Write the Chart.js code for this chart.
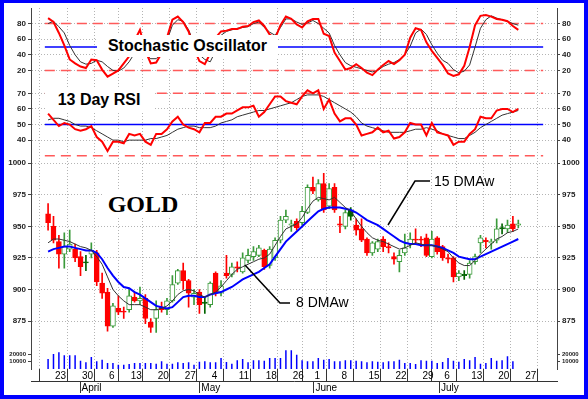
<!DOCTYPE html>
<html>
<head>
<meta charset="utf-8">
<title>Gold</title>
<script src="https://cdn.jsdelivr.net/npm/chart.js@4.4.1/dist/chart.umd.min.js"></script>
<style>
  html, body { margin: 0; padding: 0; background: #fff; }
  #wrap { position: relative; width: 588px; height: 399px; overflow: hidden; background: #fff; }
  #chart { position: absolute; left: 0; top: 0; }
  #frame { position: absolute; left: 0; top: 0; width: 588px; height: 399px; box-sizing: border-box;
           border: solid #0000ff; border-width: 3px 4px 4px 4px; pointer-events: none; }
  .tag { position: absolute; white-space: nowrap; color: #000; font-family: 'Liberation Sans', Arial, sans-serif; }
  .box { background: #fff; text-align: center; font-weight: bold; }
  svg { position: absolute; left: 0; top: 0; }
</style>
</head>
<body>
<div id="wrap">
  <canvas id="chart" width="588" height="399"></canvas>
  <svg width="588" height="399">
    <polyline points="245,265 280,303 290,303" fill="none" stroke="#000" stroke-width="1.5"/>
    <polyline points="388,225 415,181 430,181" fill="none" stroke="#000" stroke-width="1.5"/>
  </svg>
  <div class="tag box" style="left:97px;top:35px;width:181px;height:22px;line-height:22px;font-size:16px;">Stochastic Oscillator</div>
  <div class="tag box" style="left:45px;top:87px;width:108px;height:25px;line-height:25px;font-size:16px;">13 Day RSI</div>
  <div class="tag box" style="left:104px;top:190px;width:78px;height:28px;line-height:28px;font-size:24px;font-family:'Liberation Serif','Times New Roman',serif;">GOLD</div>
  <div class="tag" style="left:296px;top:294px;font-size:14px;line-height:17px;">8 DMAw</div>
  <div class="tag" style="left:434px;top:173px;font-size:14px;line-height:17px;">15 DMAw</div>
  <div id="frame"></div>
</div>
<script>
// trading days 20 Mar .. 24 Jul 2009, index 0 = 20 Mar
const weekIdx = [1, 6, 11, 15, 20, 25, 30, 35, 40, 45, 49, 54, 59, 64, 69, 73, 78, 83, 88];
const weekLabels = ['23', '30', '6', '13', '20', '27', '4', '11', '18', '26', '1', '8', '15', '22', '29', '6', '13', '20', '27'];
const monthIdx = [8, 29, 49, 71];
const monthLabels = ['April', 'May', 'June', 'July'];

const opens = [960,950,938,928,932,932,926,921,928,929, 905,898,871,885,883,884,894,891,893,874,
  877,886,884,891,905,915,907,894,898,889, 888,913,897,913,912,918,914,923,926,927,
  931,919,925,939,955,951,954,953,961,981, 971,984,966,981,952,950,958,951,948,940,
  929,932,940,934,926,922,929,936,940,940, 941,926,941,934,925,925,910,911,912,922,
  937,939,937,939,948,948,952,951];
const highs = [968,958,943,945,947,936,930,927,937,931, 913,901,889,895,886,900,898,902,896,877,
  891,890,893,911,916,921,908,900,900,894, 906,914,907,927,921,922,929,932,934,935,
  932,934,941,958,963,955,956,966,983,989, 987,992,984,984,958,963,965,956,956,941,
  938,940,942,937,929,931,944,945,948,942, 944,946,942,935,928,926,915,915,923,928,
  943,941,940,956,952,955,958,955];
const lows = [947,937,917,917,930,922,911,915,925,903, 893,867,870,880,877,882,890,888,873,866,
  866,882,880,890,904,900,886,888,881,881, 886,895,895,909,910,914,913,921,923,926,
  916,917,923,937,953,946,947,951,960,976, 970,961,964,961,945,948,955,943,938,927,
  927,930,930,929,920,914,927,933,937,934, 926,925,928,923,921,906,907,908,909,920,
  929,933,932,937,944,945,946,949];
const closes = [953,939,928,934,936,925,918,922,931,906, 897,871,887,882,882,895,891,893,877,870,
  884,884,891,904,915,907,897,897,888,890, 905,897,903,911,918,917,925,927,930,933,
  918,932,939,955,958,952,949,962,981,978, 984,963,980,963,951,961,963,947,939,929,
  937,938,934,933,924,927,933,940,939,939, 927,940,930,925,924,910,913,912,921,926,
  941,938,938,948,949,951,948,952];
const solidUp = [7, 29, 56, 77, 84];

const dma8 = [937,940,940,939,938,936,934,933,931,926, 920,910,900,895,891,888,888,888,886,884,
  884,885,887,891,896,899,900,899,896,894, 896,898,902,907,912,916,918,920,922,924,
  925,928,935,942,948,950,952,957,964,970, 973,972,971,973,969,965,962,956,950,945,
  941,939,938,936,934,932,933,935,937,936, 935,935,934,932,930,925,921,919,919,923,
  928,932,936,940,942,945,946,948];
const dma15 = [930,932,933,934,934,933,932,931,931,929, 924,917,911,906,902,901,898,896,893,890,
  887,886,885,886,890,894,895,895,894,894, 896,897,898,900,902,905,908,910,912,914,
  917,920,926,932,938,942,946,950,954,958, 962,964,965,965,965,964,963,961,958,955,
  953,951,948,945,942,939,937,936,936,935, 935,935,934,933,931,929,926,925,924,924,
  926,928,930,932,934,936,938,940];

const volume = [13300,20000,22300,18300,18300,18300,11000,8900,16000,10300, 12400,8000,8000,5700,5700,6700,8000,8000,8000,8000,
  7100,10300,7100,7100,8900,8000,8900,5700,9700,10300, 8900,8900,14700,9300,7100,11600,13300,8900,11600,11600,
  11100,14700,14700,14700,24900,24900,19100,11600,10200,10200, 14700,12400,13300,10200,10200,11600,11600,11100,10200,8900,
  10200,9800,8900,10200,10200,12400,8000,8000,6700,11600, 11100,11100,8000,9300,14700,11100,9800,13300,11600,16000,
  7100,8000,14700,11100,11600,16900,10200,null];

const stochK = [87,82,68,52,34,29,25,23,34,33, 21,12,16,20,29,38,58,72,45,29,
  30,42,62,85,89,82,70,48,32,28, 42,62,70,71,73,73,76,77,82,84,
  77,66,61,78,89,86,79,75,83,86, 86,67,64,43,32,21,23,28,23,17,
  14,21,27,32,28,33,40,62,74,72, 56,45,36,27,16,13,15,26,50,78,
  90,91,89,86,85,83,77,72];
const stochD = [80,83,76,68,52,40,31,28,29,33, 31,25,20,19,23,31,42,52,40,35,
  35,42,58,78,85,83,72,55,40,34, 31,45,65,70,72,74,75,76,80,82,
  75,69,65,75,86,86,82,79,81,84, 80,74,68,52,40,30,26,24,22,20,
  18,20,25,28,30,34,40,51,68,73, 66,53,42,33,29,21,17,19,27,50,
  74,85,90,87,85,83,80,78];

const rsi13 = [57,53,49,51,50,47,46,47,49,42, 39,33,39,39,38,44,43,44,39,37,
  44,44,47,52,55,50,48,47,45,51, 51,55,55,57,57,59,61,61,62,55,
  58,63,68,68,65,64,63,68,72,70, 72,60,66,57,52,54,54,50,43,44,
  45,48,45,46,41,42,45,51,50,50, 43,51,45,44,43,37,39,39,44,47,
  55,54,54,59,60,60,58,60];
const rsiAvg = [53,54,54,53,52,50,49,49,48,46, 44,42,40,40,39,40,40,40,40,41,
  41,42,43,45,47,48,49,49,48,48, 48,49,51,52,53,55,56,57,58,59,
  59,60,61,62,63,64,66,68,69,69, 69,68,66,64,62,60,58,55,51,49,
  48,47,46,45,45,45,45,46,47,47, 48,47,46,44,43,42,41,41,43,45,
  48,50,52,54,56,57,58,59];

const stochTicks = [20, 40, 60, 80];
const rsiTicks = [40, 50, 60, 70];
const priceTicks = [875, 900, 925, 950, 975, 1000];
const volTicks = [10000, 20000];
const stochBands = [20, 80];
const rsiBands = [30, 70];
const midLine = 50;

const X_MIN = -0.6, X_MAX = 91.6;
const FONT = "'Liberation Sans', Arial, sans-serif";
const RED = '#ff0000', GREEN = '#3a9a3a', DARK_GREEN = '#006400', BLUE = '#0000ff';
const GRID = '#b4b4b4', AXIS = '#444';

function yScale(pos, stack, weight, min, max, ticks, size, grid) {
  return {
    type: 'linear', position: pos, stack, stackWeight: weight, min, max,
    afterBuildTicks: (s) => { s.ticks = ticks.map((v) => ({ value: v })); },
    afterFit: (s) => { s.width = 31; },
    grid: { drawOnChartArea: pos === 'left' && grid !== false, color: GRID, tickLength: 3, tickColor: AXIS, tickBorderDash: [] },
    border: { display: true, color: AXIS, dash: [1, 2] },
    ticks: { autoSkip: false, padding: 2, color: '#222', callback: (v) => String(v),
      font: { family: FONT, size: size || 8, weight: 'bold' } },
  };
}

function xScale(ticks, labels, onArea, border) {
  return {
    type: 'linear', position: 'bottom', min: X_MIN, max: X_MAX,
    afterBuildTicks: (s) => { s.ticks = ticks.map((v) => ({ value: v })); },
    afterFit: (s) => { s.height = 12; },
    grid: { drawOnChartArea: onArea, color: GRID, tickLength: 12, tickColor: '#333', tickBorderDash: [] },
    border: { display: border, color: '#333', dash: [1, 2] },
    ticks: { autoSkip: false, maxRotation: 0, align: 'start', padding: -11, labelOffset: 1.5, color: '#000',
      font: { family: FONT, size: 10 }, callback: (v, i) => labels[i] },
  };
}

const pts = (arr) => arr.map((v, i) => ({ x: i, y: v }));
const flat = (v) => [{ x: X_MIN, y: v }, { x: X_MAX, y: v }];
const line = (axis, data, color, width, order, dash) => ({
  type: 'line', yAxisID: axis, data, borderColor: color, borderWidth: width,
  pointRadius: 0, tension: 0, fill: false, order, borderDash: dash || [],
});

const up = closes.map((c, i) => c > opens[i]);
const edge = closes.map((c, i) => (solidUp.includes(i) ? DARK_GREEN : up[i] ? GREEN : RED));
const fillC = closes.map((c, i) => (solidUp.includes(i) ? DARK_GREEN : up[i] ? '#ffffff' : RED));

new Chart(document.getElementById('chart'), {
  type: 'line',
  data: {
    datasets: [
      line('yS', pts(stochK), RED, 2, 1),
      line('yS', pts(stochD), '#333', 1, 2),
      ...stochBands.map((v) => line('yS', flat(v), '#ff5a5a', 1.5, 6, [10, 6])),
      line('yS', flat(midLine), BLUE, 1.5, 6),
      line('yR', pts(rsi13), RED, 2, 1),
      line('yR', pts(rsiAvg), '#333', 1, 2),
      ...rsiBands.map((v) => line('yR', flat(v), '#ff5a5a', 1.5, 6, [10, 6])),
      line('yR', flat(midLine), BLUE, 1.5, 6),
      line('yP', pts(dma8), '#333', 1, 1),
      line('yP', pts(dma15), BLUE, 2, 1),
      { type: 'bar', yAxisID: 'yP', data: lows.map((l, i) => ({ x: i, y: [l, highs[i]] })),
        backgroundColor: edge, barThickness: 1, grouped: false, order: 4 },
      { type: 'bar', yAxisID: 'yP', data: opens.map((o, i) => ({ x: i, y: [o, closes[i]] })),
        backgroundColor: fillC, borderColor: edge, borderWidth: 1, borderSkipped: false,
        barThickness: 5, grouped: false, order: 3 },
      { type: 'bar', yAxisID: 'yV', data: pts(volume), backgroundColor: BLUE, barThickness: 1.5,
        inflateAmount: 0, grouped: false, order: 3 },
    ],
  },
  options: {
    responsive: false,
    animation: false,
    events: [],
    layout: { autoPadding: false, padding: { top: 8, bottom: 6, left: 0, right: 0 } },
    plugins: { legend: { display: false }, tooltip: { enabled: false } },
    scales: {
      x: xScale(weekIdx, weekLabels, true, false),
      xm: xScale(monthIdx, monthLabels, false, true),
      yV: yScale('left', 'L', 28.5, 0, 38000, volTicks, 6, false),
      yP: yScale('left', 'L', 181.5, 859.6, 1003.4, priceTicks),
      yR: yScale('left', 'L', 73, 27.9, 74.7, rsiTicks),
      yS: yScale('left', 'L', 78, 0, 100, stochTicks),
      yS2: yScale('right', 'R', 78, 0, 100, stochTicks),
      yR2: yScale('right', 'R', 73, 27.9, 74.7, rsiTicks),
      yP2: yScale('right', 'R', 181.5, 859.6, 1003.4, priceTicks),
      yV2: yScale('right', 'R', 28.5, 0, 38000, volTicks, 6, false),
    },
  },
});
</script>
</body>
</html>
